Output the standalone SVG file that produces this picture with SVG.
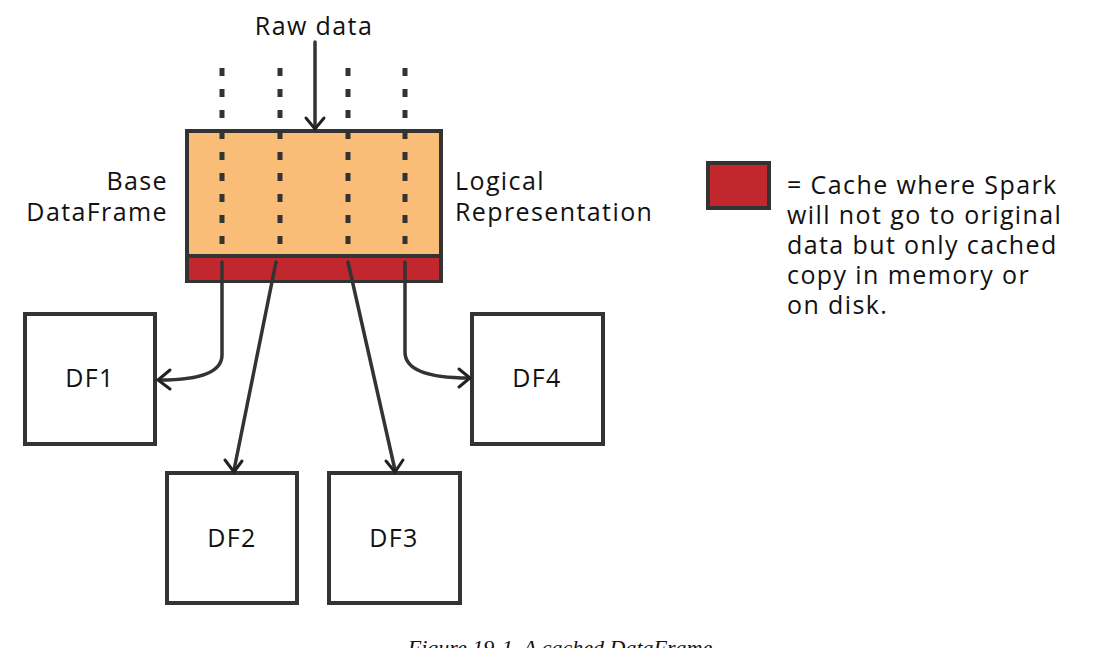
<svg xmlns="http://www.w3.org/2000/svg" width="1115" height="670" viewBox="0 0 1115 670">
<style>
.t{font-family:"Open Sans","Liberation Sans",sans-serif;font-size:25px;letter-spacing:1.4px;fill:#111}
.box{fill:#fff;stroke:#333;stroke-width:4}
.ln{fill:none;stroke:#333;stroke-width:3.5;stroke-linecap:round}
.dot{fill:none;stroke:#333;stroke-width:5;stroke-dasharray:8 13}
.ah{fill:none;stroke:#222;stroke-width:3;stroke-linecap:round}
</style>
<rect width="1115" height="670" fill="#fff"/>
<g id="base">
<rect x="187" y="131" width="254" height="150" fill="#f9bd78" stroke="#333" stroke-width="4"/>
<rect x="189" y="257" width="250" height="23" fill="#c1272d"/>
<line x1="187" y1="256" x2="441" y2="256" stroke="#333" stroke-width="4"/>
<text class="t" x="168" y="190" text-anchor="end">Base</text>
<text class="t" x="168" y="221" text-anchor="end">DataFrame</text>
<text class="t" x="455" y="190">Logical</text>
<text class="t" x="455" y="221">Representation</text>
</g>
<g id="rawdata">
<text class="t" x="314" y="35" text-anchor="middle">Raw data</text>
<path class="dot" d="M222 68V245M280 68V245M348 68V245M405 68V245"/>
</g>
<g id="df1"><rect class="box" x="25" y="314" width="130" height="130"/><text class="t" x="90" y="387" text-anchor="middle">DF1</text></g>
<g id="df2"><rect class="box" x="167" y="473" width="130" height="130"/><text class="t" x="232" y="547" text-anchor="middle">DF2</text></g>
<g id="df3"><rect class="box" x="329" y="473" width="131" height="130"/><text class="t" x="394" y="547" text-anchor="middle">DF3</text></g>
<g id="df4"><rect class="box" x="472" y="314" width="131" height="130"/><text class="t" x="537" y="387" text-anchor="middle">DF4</text></g>
<g id="connectors">
<path class="ln" d="M315 42V128"/><path class="ah" d="M306 118L315 129L324 118"/>
<path class="ln" d="M222 262V355Q222 380 160 380"/><path class="ah" d="M170 370L158 380L170 389"/>
<path class="ln" d="M276 262L234 470"/><path class="ah" d="M225 460L234 472L242 461"/>
<path class="ln" d="M348 262L395 470"/><path class="ah" d="M386 461L395 472L403 460"/>
<path class="ln" d="M405 262V352Q405 378 469 378"/><path class="ah" d="M459 369L470 378L459 387"/>
</g>
<g id="legend">
<rect x="708" y="163" width="61" height="45" fill="#c1272d" stroke="#333" stroke-width="4"/>
<text class="t" x="787" y="194">= Cache where Spark</text>
<text class="t" x="787" y="224">will not go to original</text>
<text class="t" x="787" y="254">data but only cached</text>
<text class="t" x="787" y="284">copy in memory or</text>
<text class="t" x="787" y="314">on disk.</text>
</g>
<text x="560" y="655" text-anchor="middle" font-family="Liberation Serif,serif" font-style="italic" font-size="22" fill="#111">Figure 19-1. A cached DataFrame</text>
<rect x="0" y="648" width="1115" height="22" fill="#fff"/>
</svg>
